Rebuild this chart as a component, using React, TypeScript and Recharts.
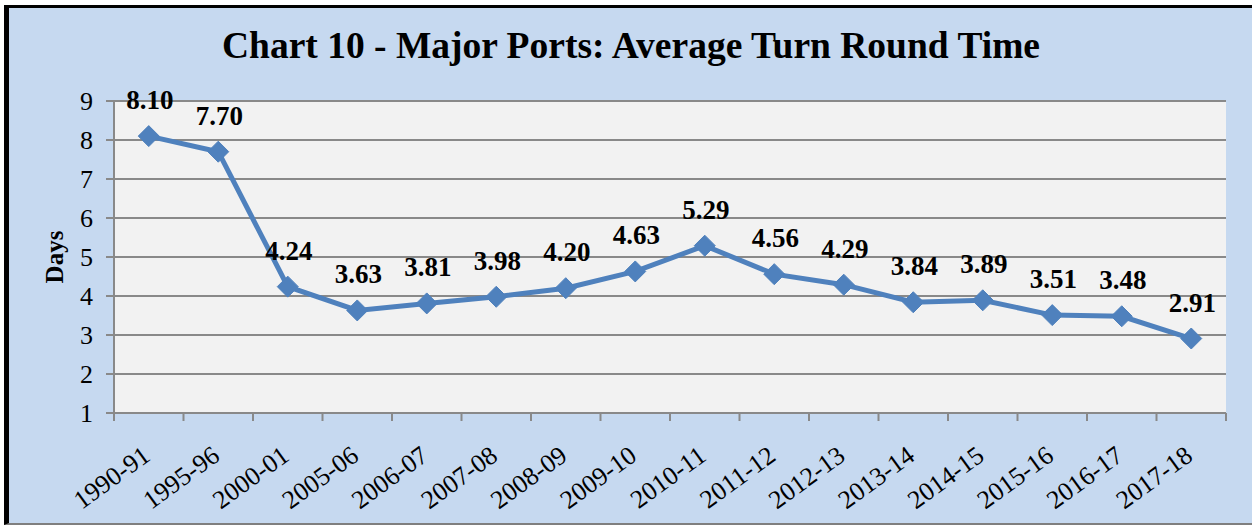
import { LineChart, Line, XAxis, YAxis, CartesianGrid, LabelList } from 'recharts'

const periods = [
  '1990-91', '1995-96', '2000-01', '2005-06', '2006-07', '2007-08', '2008-09', '2009-10',
  '2010-11', '2011-12', '2012-13', '2013-14', '2014-15', '2015-16', '2016-17', '2017-18',
]
const turnRoundDays = [8.1, 7.7, 4.24, 3.63, 3.81, 3.98, 4.2, 4.63, 5.29, 4.56, 4.29, 3.84, 3.89, 3.51, 3.48, 2.91]
const yTicks = [1, 2, 3, 4, 5, 6, 7, 8, 9]

const data = periods.map((p, i) => ({ idx: i, period: p, days: turnRoundDays[i] }))

// category centres carry labels, half-steps carry the tick marks between categories
const xTicks = [
  ...periods.map((_, i) => i),
  ...Array.from({ length: periods.length + 1 }, (_, i) => i - 0.5),
]

const FONT = '"Liberation Serif", "Times New Roman", serif'
const BLUE = '#4F81BD'
const GRID = '#898989'

function XTick({ x, y, payload }: any) {
  const v = payload.value
  if (!Number.isInteger(v)) {
    return <line x1={x} x2={x} y1={y} y2={y + 8} stroke={GRID} strokeWidth={2} />
  }
  const tx = x + 3
  const ty = y + 46
  return (
    <text
      x={tx}
      y={ty}
      transform={`rotate(-36 ${tx} ${ty})`}
      textAnchor="end"
      fontFamily={FONT}
      fontSize={26}
      fill="#000"
    >
      {periods[v]}
    </text>
  )
}

function Diamond({ cx, cy, index }: any) {
  const r = 10.5
  return (
    <path
      key={`d-${index}`}
      d={`M${cx},${cy - r} L${cx + r},${cy} L${cx},${cy + r} L${cx - r},${cy} Z`}
      fill={BLUE}
      stroke={BLUE}
    />
  )
}

function ValueLabel({ x, y, value }: any) {
  return (
    <text
      x={x + 1}
      y={y - 27}
      textAnchor="middle"
      fontFamily={FONT}
      fontWeight="bold"
      fontSize={27}
      fill="#000"
    >
      {Number(value).toFixed(2)}
    </text>
  )
}

function DaysLabel({ viewBox }: any) {
  const x = viewBox.x + viewBox.width / 2 + 6
  const y = viewBox.y + viewBox.height / 2
  return (
    <text
      x={x}
      y={y}
      transform={`rotate(-90 ${x} ${y})`}
      textAnchor="middle"
      fontFamily={FONT}
      fontWeight="bold"
      fontSize={25}
      fill="#000"
    >
      Days
    </text>
  )
}

export default function App() {
  return (
    <div style={{ position: 'absolute', left: 0, top: 0, width: 1252, height: 525, background: '#fff' }}>
      <div
        style={{
          position: 'absolute',
          left: 4,
          top: 5,
          width: 1248,
          height: 520,
          boxSizing: 'border-box',
          background: '#C6D9F0',
          borderTop: '3px solid #000',
          borderLeft: '5px solid #000',
          borderBottom: '2px solid #7F7F7F',
        }}
      />
      <div style={{ position: 'absolute', left: 0, top: 0 }}>
        <LineChart width={1252} height={525} data={data} margin={{ top: 101, right: 26, left: 0, bottom: 0 }}>
          <CartesianGrid vertical={false} fill="#F2F2F2" stroke={GRID} strokeWidth={2} />
          <XAxis
            dataKey="idx"
            type="number"
            domain={[-0.5, periods.length - 0.5]}
            ticks={xTicks}
            interval={0}
            allowDecimals
            height={112}
            tickSize={0}
            tickMargin={0}
            tick={<XTick />}
            axisLine={{ stroke: GRID, strokeWidth: 2 }}
          />
          <YAxis
            domain={[1, 9]}
            ticks={yTicks}
            interval={0}
            width={114}
            tickSize={8}
            tickMargin={13}
            tick={{ fontSize: 26, fontFamily: FONT, fill: '#000' }}
            axisLine={{ stroke: GRID, strokeWidth: 2 }}
            tickLine={{ stroke: GRID, strokeWidth: 2 }}
            label={<DaysLabel />}
          />
          <Line
            type="linear"
            dataKey="days"
            stroke={BLUE}
            strokeWidth={5}
            dot={<Diamond />}
            activeDot={false}
            isAnimationActive={false}
          >
            <LabelList dataKey="days" content={<ValueLabel />} />
          </Line>
        </LineChart>
      </div>
      <svg width={1252} height={525} style={{ position: 'absolute', left: 0, top: 0, pointerEvents: 'none' }}>
        <text x={631} y={58} textAnchor="middle" fontFamily={FONT} fontWeight="bold" fontSize={37.5} fill="#000">
          Chart 10 - Major Ports: Average Turn Round Time
        </text>
      </svg>
    </div>
  )
}
